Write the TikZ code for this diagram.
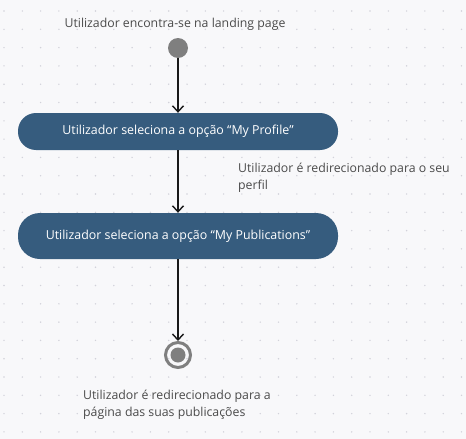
\documentclass[tikz,border=0pt]{standalone}
\usepackage{fontspec}
\setmainfont{Open Sans}
\usetikzlibrary{arrows.meta,positioning}
\definecolor{boxblue}{HTML}{365C7E}
\definecolor{bggray}{HTML}{F8F8FA}
\definecolor{dotgray}{HTML}{D2D2DA}
\definecolor{txtgray}{HTML}{4A4A4A}
\definecolor{nodegray}{HTML}{7F7F7F}
\begin{document}
\begin{tikzpicture}
  [x=1pt,y=-1pt,
   action/.style={rectangle,rounded corners=18pt,fill=boxblue,text=white,
     minimum width=320pt,minimum height=37pt,font=\fontsize{12.4}{14}\selectfont},
   note/.style={text=txtgray,align=left,font=\fontsize{12.3}{17}\selectfont,inner sep=0pt},
   flow/.style={-{Straight Barb[length=6pt,width=11pt]},line width=1.4pt,black!90}]
  % background and dot grid
  \fill[bggray] (0,0) rectangle (466,439);
  \useasboundingbox (0,0) rectangle (466,439);
  \foreach \gx in {0,...,25} {
    \foreach \gy in {0,...,23} {
      \fill[dotgray] (4+\gx*18.3,11+\gy*18.3) circle (0.8pt);
    }
  }
  % states
  \node[circle,fill=nodegray,minimum size=20pt,inner sep=0pt] (start) at (178,48) {};
  \node[note,anchor=base] (startlbl) at (175,27.5) {Utilizador encontra-se na landing page};
  \node[action] (profile) at (178,131.5) {Utilizador seleciona a opção “My Profile”};
  \node[action,minimum height=46pt,rounded corners=22pt] (pubs) at (178,236) {Utilizador seleciona a opção “My Publications”};
  \node[circle,draw=nodegray,line width=3pt,minimum size=25pt,inner sep=0pt] (end) at (178,355) {};
  \fill[nodegray] (end.center) circle (7.5pt);
  % base of the last line
  \node[note,anchor=base west] (profilelbl) at (238,189.5) {Utilizador é redirecionado para o seu\\perfil};
  \node[note,anchor=base west] (endlbl) at (83,416.5) {Utilizador é redirecionado para a\\página das suas publicações};
  % transitions
  \draw[flow] (start) -- (profile);
  \draw[flow] (profile) -- (pubs);
  \draw[flow] (pubs) -- (end);
\end{tikzpicture}
\end{document}
